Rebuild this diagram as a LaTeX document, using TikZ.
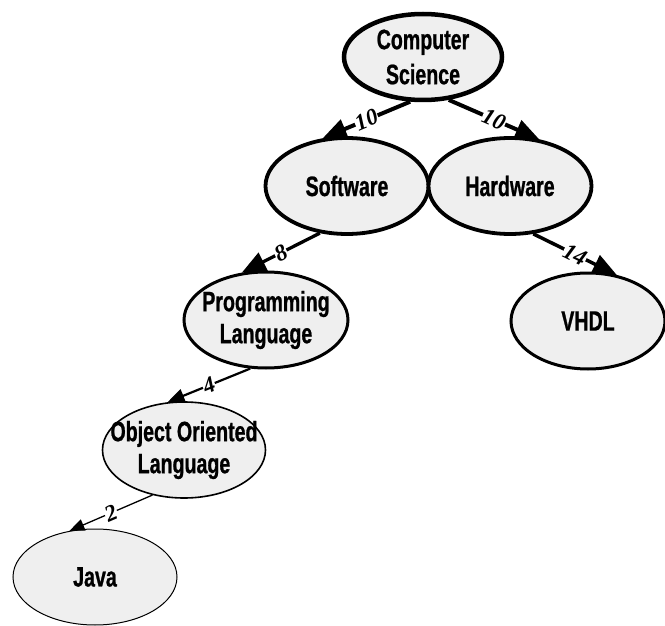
\documentclass[tikz,border=0pt]{standalone}
\usepackage{fontspec}
\newfontfamily\nodefont{Liberation Sans}[FakeStretch=0.70,BoldFeatures={FakeBold=0.8}]
\newfontfamily\wtfont{Liberation Serif}
\usetikzlibrary{shapes.geometric,arrows.meta}
\definecolor{nodegray}{HTML}{EFEFEF}
\begin{document}
\begin{tikzpicture}[x=1pt,y=-1pt,
	main node/.style = {ellipse,draw,fill=nodegray,inner xsep=-25pt,inner ysep=-8pt,align=center,
		minimum width=163pt,minimum height=96pt,
		font=\nodefont\bfseries\fontsize{28}{32}\selectfont},
	weight/.style = {font=\wtfont\bfseries\itshape\fontsize{23}{23}\selectfont,
		fill=white,inner sep=0.5pt,sloped,midway},
	big tip/.style = {-{Triangle[length=24pt,width=20pt]}},
	small tip/.style = {-{Triangle[length=17pt,width=14pt]}}]
	\useasboundingbox (0,0) rectangle (665,626);
	\node[main node,line width=4.5pt,minimum width=158pt,minimum height=86pt,
		font=\nodefont\bfseries\fontsize{28}{35}\selectfont] at (423,57) (1) {Computer\\Science};
	\node[main node,line width=3.8pt] at (347,186) (2) {Software};
	\node[main node,line width=3.8pt] at (510,186) (3) {Hardware};
	\node[main node,line width=3pt,minimum width=164pt] at (266,320) (4) {Programming\\Language};
	\node[main node,line width=3pt,minimum width=154pt] at (588,321) (5) {VHDL};
	\node[main node,line width=1.6pt] at (184,450) (6) {Object Oriented\\Language};
	\node[main node,line width=1pt,minimum width=164pt] at (95,577) (7) {Java};
	
	\path
	(1.254) edge [big tip,line width=4pt] node[weight] {10} (2.117)
	(1.301) edge [big tip,line width=4pt] node[weight] {10} (3.58)
	(2.240) edge [big tip,line width=3.3pt] node[weight] {8} (4.117)
	(3.296) edge [big tip,line width=3.5pt] node[weight] {14} (5.58)
	(4.252) edge [small tip,line width=2.2pt] node[weight] {4} (6.109)
	(6.235) edge [small tip,line width=1.3pt,-{Triangle[length=15pt,width=12pt]}] node[weight] {2} (7.119);
\end{tikzpicture}
\end{document}
